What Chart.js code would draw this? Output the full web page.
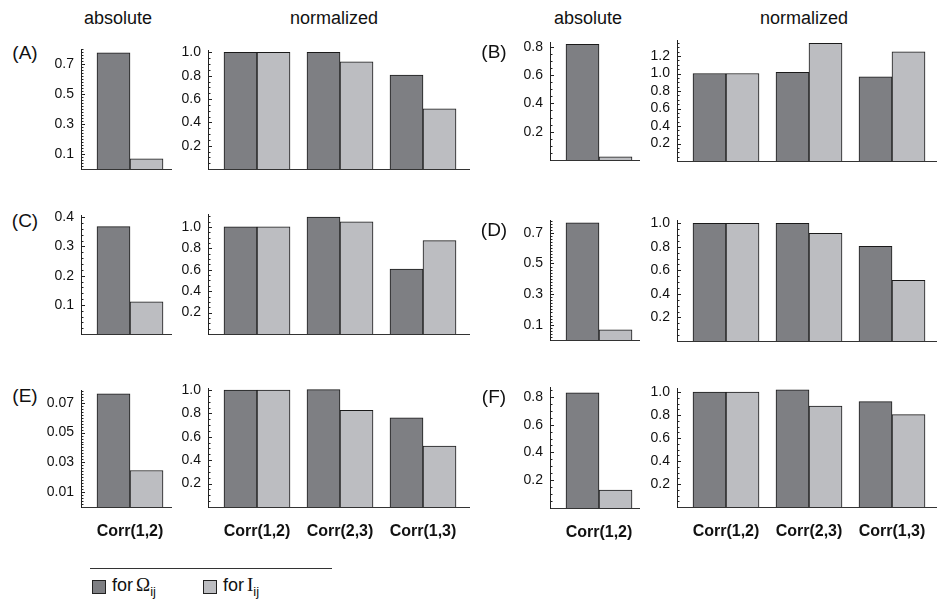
<!DOCTYPE html>
<html>
<head>
<meta charset="utf-8">
<script src="https://cdn.jsdelivr.net/npm/chart.js@4.4.1/dist/chart.umd.min.js"></script>
<style>
  body { margin: 0; background: #fff; font-family: "Liberation Sans", Arial, sans-serif; color: #111; }
  #page { position: relative; width: 937px; height: 603px; overflow: hidden; }
  .box { position: absolute; }
  .txt { position: absolute; white-space: nowrap; transform: translate(-50%, -50%); }
  .sw { position: absolute; width: 12px; height: 12px; border: 1px solid #222; }
  .leg { position: absolute; font-size: 18px; white-space: nowrap; }
  .leg sub { font-size: 13px; }
  .serif { font-family: "Liberation Serif", "DejaVu Serif", serif; font-size: 19px; margin-left: 3px; }
</style>
</head>
<body>
<div id="page"></div>
<script>
const panelNames = ['(A)', '(B)', '(C)', '(D)', '(E)', '(F)'];
const absCats = ['Corr(1,2)'];
const normCats = ['Corr(1,2)', 'Corr(2,3)', 'Corr(1,3)'];

// absolute value of Corr(1,2), panels A..F
const absOmega = [0.775, 0.818, 0.368, 0.766, 0.076, 0.829];
const absI = [0.067, 0.023, 0.110, 0.067, 0.0245, 0.129];

// normalized values, panels A..F
const normOmega = [
  [1.0, 1.0, 0.806],
  [1.0, 1.014, 0.963],
  [1.0, 1.093, 0.607],
  [1.0, 1.0, 0.805],
  [1.0, 1.003, 0.761],
  [1.0, 1.02, 0.917]
];
const normI = [
  [1.0, 0.918, 0.515],
  [1.0, 1.345, 1.249],
  [1.0, 1.047, 0.872],
  [1.0, 0.915, 0.516],
  [1.0, 0.826, 0.521],
  [1.0, 0.878, 0.803]
];

// labelled y ticks, axis tops, minor tick steps
const absTicks = [
  [0.1, 0.3, 0.5, 0.7],
  [0.2, 0.4, 0.6, 0.8],
  [0.1, 0.2, 0.3, 0.4],
  [0.1, 0.3, 0.5, 0.7],
  [0.01, 0.03, 0.05, 0.07],
  [0.2, 0.4, 0.6, 0.8]
];
const normTicks = [
  [0.2, 0.4, 0.6, 0.8, 1.0],
  [0.2, 0.4, 0.6, 0.8, 1.0, 1.2],
  [0.2, 0.4, 0.6, 0.8, 1.0],
  [0.2, 0.4, 0.6, 0.8, 1.0],
  [0.2, 0.4, 0.6, 0.8, 1.0],
  [0.2, 0.4, 0.6, 0.8, 1.0]
];
const absMax = [0.8, 0.834, 0.408, 0.784, 0.0786, 0.871];
const normMax = [1.02, 1.383, 1.121, 1.028, 1.017, 1.035];
const absStep = [0.02, 0.05, 0.02, 0.02, 0.002, 0.05];
const absDigits = [1, 1, 1, 1, 2, 1];

// page layout (pixels)
const cols = [
  { abs: [81, 172], norm: [208, 470], labelX: 25, head: [118, 334] },
  { abs: [550, 640], norm: [677, 937], labelX: 494, head: [588, 804] }
];
const absRows = [[49, 169], [42, 160], [215, 334], [220, 340], [390, 507], [387, 508]];
const normRows = [[50, 169], [40, 161], [214, 334], [220, 341], [388, 507], [388, 507]];
const labelY = [53, 52, 221, 230, 396, 397];

const DARK = '#7e7f83';
const LIGHT = '#bcbdc1';
const YW = 44, PADT = 10;
const page = document.getElementById('page');

Chart.defaults.font.family = '"Liberation Sans", Arial, sans-serif';
Chart.defaults.color = '#111';

function addText(txt, x, y, size) {
  const d = document.createElement('div');
  d.className = 'txt';
  d.style.left = x + 'px';
  d.style.top = y + 'px';
  d.style.fontSize = size + 'px';
  d.textContent = txt;
  page.appendChild(d);
}

function makePanel(cats, omega, ivals, xr, yr, axis, bottom) {
  const [x0, x1] = xr;
  const [top, base] = yr;
  const xh = bottom ? 40 : 3;
  const box = document.createElement('div');
  box.className = 'box';
  box.style.left = (x0 - YW) + 'px';
  box.style.top = (top - PADT) + 'px';
  const canvas = document.createElement('canvas');
  canvas.width = x1 - x0 + YW;
  canvas.height = base - top + PADT + xh;
  box.appendChild(canvas);
  page.appendChild(box);

  // bars sit 49px from the axis, 83px apart
  const pitch = 83, first = 49;
  const xmin = 1 - first / pitch;
  const xmax = xmin + (x1 - x0) / pitch;

  const yTicks = [];
  for (let k = 1; k * axis.step <= axis.max + 1e-9; k++) yTicks.push(+(k * axis.step).toFixed(6));
  const isMajor = v => axis.ticks.some(t => Math.abs(t - v) < axis.step / 4);

  // small tick marks pointing into the plot, as in the original
  const innerTicks = {
    id: 'innerTicks',
    afterDatasetsDraw(chart) {
      const s = chart.scales.y;
      const ctx = chart.ctx;
      const x = Math.round(chart.chartArea.left);
      ctx.save();
      ctx.strokeStyle = '#222';
      ctx.lineWidth = 1;
      s.ticks.forEach(t => {
        const y = Math.round(s.getPixelForValue(t.value)) + 0.5;
        const len = isMajor(t.value) ? 4 : 2.5;
        ctx.beginPath();
        ctx.moveTo(x, y);
        ctx.lineTo(x + len, y);
        ctx.stroke();
      });
      ctx.restore();
    }
  };

  return new Chart(canvas, {
    type: 'bar',
    data: {
      datasets: [
        { label: 'for Ω', data: omega.map((v, i) => ({ x: i + 1, y: v })), backgroundColor: DARK },
        { label: 'for I', data: ivals.map((v, i) => ({ x: i + 1, y: v })), backgroundColor: LIGHT }
      ]
    },
    plugins: [innerTicks],
    options: {
      responsive: false,
      animation: false,
      devicePixelRatio: 1,
      layout: { padding: { top: PADT, left: 0, right: 0, bottom: 0 } },
      datasets: {
        bar: { barThickness: 33, borderColor: '#1a1a1a', borderWidth: 1 }
      },
      plugins: { legend: { display: false }, tooltip: { enabled: false } },
      scales: {
        x: {
          type: 'linear',
          min: xmin,
          max: xmax,
          offset: false,
          afterBuildTicks: s => { s.ticks = cats.map((c, i) => ({ value: i + 1 })); },
          afterFit: s => { s.height = xh; s.paddingLeft = 0; s.paddingRight = 0; },
          ticks: {
            display: bottom,
            autoSkip: false,
            maxRotation: 0,
            padding: 0,
            font: { size: 16, weight: 'bold' },
            callback: v => cats[Math.round(v) - 1] || ''
          },
          grid: { display: true, drawOnChartArea: false, drawTicks: bottom, tickLength: 15, color: 'rgba(0,0,0,0)', offset: false },
          border: { color: '#333', width: 1 }
        },
        y: {
          min: 0,
          max: axis.max,
          afterBuildTicks: s => { s.ticks = yTicks.map(v => ({ value: v })); },
          afterFit: s => { s.width = YW; s.paddingTop = 0; s.paddingBottom = 0; },
          ticks: {
            autoSkip: false,
            padding: 7,
            font: { size: 14 },
            callback: v => isMajor(v) ? v.toFixed(axis.digits) : ''
          },
          grid: { drawOnChartArea: false, drawTicks: false },
          border: { color: '#222', width: 1 }
        }
      }
    }
  });
}

// headers
cols.forEach(c => {
  addText('absolute', c.head[0], 18, 18);
  addText('normalized', c.head[1], 18, 18);
});

panelNames.forEach((name, i) => {
  const col = cols[i % 2];
  const bottom = Math.floor(i / 2) === 2;
  addText(name, col.labelX, labelY[i], 19);
  makePanel(absCats, [absOmega[i]], [absI[i]], col.abs, absRows[i],
    { max: absMax[i], ticks: absTicks[i], step: absStep[i], digits: absDigits[i] }, bottom);
  makePanel(normCats, normOmega[i], normI[i], col.norm, normRows[i],
    { max: normMax[i], ticks: normTicks[i], step: 0.05, digits: 1 }, bottom);
});

// legend
page.insertAdjacentHTML('beforeend', `
  <div style="position:absolute;left:90px;top:568px;width:242px;height:1px;background:#333"></div>
  <div class="sw" style="left:92px;top:580px;background:${DARK}"></div>
  <div class="leg" style="left:112px;top:574px">for<span class="serif">Ω</span><sub>ij</sub></div>
  <div class="sw" style="left:203px;top:580px;background:${LIGHT}"></div>
  <div class="leg" style="left:223px;top:574px">for<span class="serif">I</span><sub>ij</sub></div>
`);
</script>
</body>
</html>
